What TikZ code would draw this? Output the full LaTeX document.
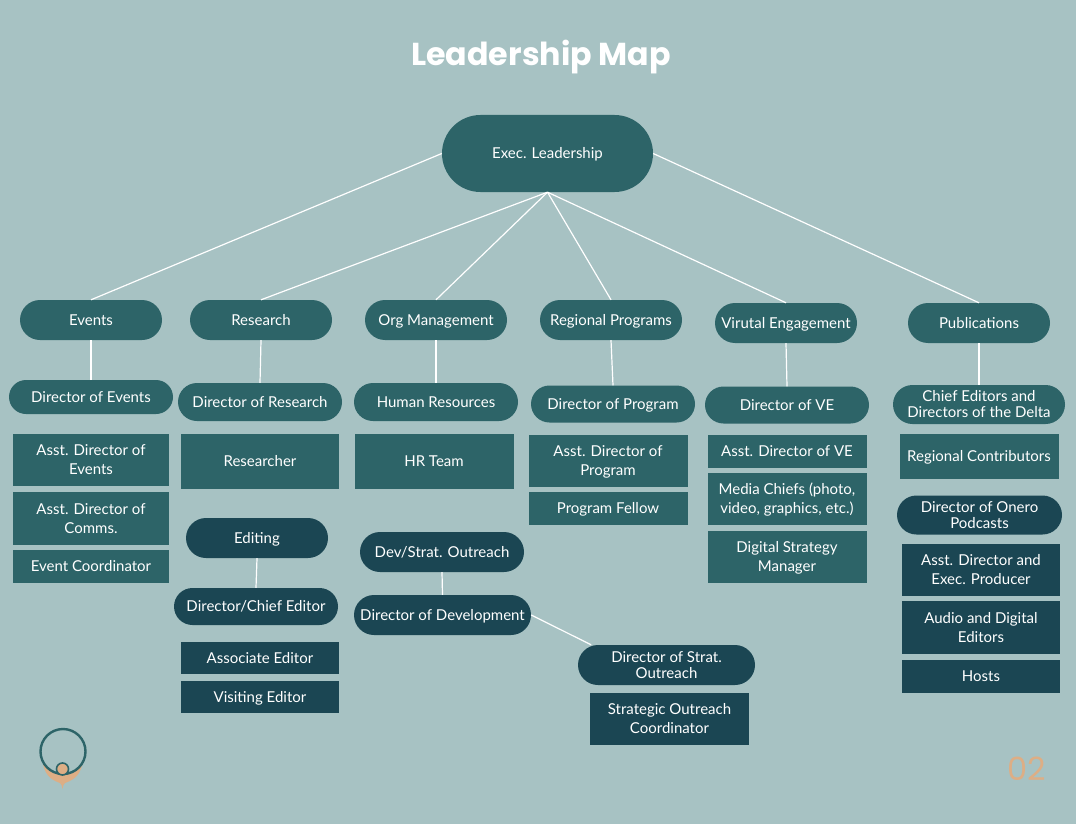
\documentclass[tikz,border=0pt]{standalone}
\usepackage{xcolor}
\usepackage{fontspec}
\setmainfont{Lato}
\newfontfamily\titlefont{Poppins}
\usetikzlibrary{positioning}
\definecolor{pagebg}{HTML}{A7C2C3}
\definecolor{tealfill}{HTML}{2D6468}
\definecolor{darkfill}{HTML}{1B4653}
\definecolor{tanfill}{HTML}{DDAE85}
\newcommand{\capstrut}{\rule[-2.6pt]{0pt}{15.6pt}}

\begin{document}
\begin{tikzpicture}[
    x=1pt, y=-1pt,
    pillnode/.style={rectangle, fill=tealfill, text=white, inner sep=0pt, align=center,
                     font=\fontsize{15}{16}\selectfont},
    darkpill/.style={pillnode, fill=darkfill},
    boxnode/.style={rectangle, fill=tealfill, text=white, inner sep=0pt, align=center,
                    font=\fontsize{15}{19}\selectfont},
    darkbox/.style={boxnode, fill=darkfill},
    link/.style={draw=white, line width=1.2pt}
]
  \fill[pagebg] (0,0) rectangle (1076,824);
  \node[font=\titlefont\bfseries\fontsize{31.7}{36}\selectfont, text=white] (title) at (541,57) {Leadership Map};

  % rounded boxes
  \foreach \n/\x/\y/\w/\h/\t in {
      exec/547.5/153.5/211/77/{Exec. Leadership},
      events/91/320/142/40/{Events},
      research/261/320/142/40/{Research},
      org/436/320/142/40/{Org Management},
      regional/611/320/142/40/{Regional Programs},
      virtual/786/323/142/40/{Virutal Engagement},
      pubs/979/323/142/40/{Publications},
      dirEvents/91/397/164/34/{Director of Events},
      dirResearch/260/402/164/38/{Director of Research},
      hr/436/402/164/38/{Human Resources},
      dirProgram/613/404/164/37/{Director of Program},
      dirVE/787/405/164/37/{Director of VE},
      chiefEd/979/404.5/172/39/{Chief Editors and\\Directors of the Delta}} {
    \pgfmathsetmacro{\rr}{\h/2}
    \node[pillnode, rounded corners=\rr pt, minimum width=\w pt, minimum height=\h pt] (\n) at (\x,\y) {\capstrut\t\capstrut};
  }
  \foreach \n/\x/\y/\w/\h/\t in {
      editing/257/538/142/40/{Editing},
      dirEditor/256/606.5/164/37/{Director/Chief Editor},
      devStrat/442/552/164/40/{Dev/Strat. Outreach},
      dirDev/442.5/615/177/40/{Director of Development},
      dirStrat/666.5/665/177/40/{Director of Strat.\\Outreach},
      dirOnero/979.5/515/165/39/{Director of Onero\\Podcasts}} {
    \pgfmathsetmacro{\rr}{\h/2}
    \node[darkpill, rounded corners=\rr pt, minimum width=\w pt, minimum height=\h pt] (\n) at (\x,\y) {\capstrut\t\capstrut};
  }

  % square boxes
  \foreach \n/\x/\y/\w/\h/\t in {
      asstEvents/91/460/156/52/{Asst. Director of\\Events},
      asstComms/91/518.5/156/53/{Asst. Director of\\Comms.},
      coordEvents/91/566.5/156/33/{Event Coordinator},
      researcher/260/461.5/158/55/{Researcher},
      hrTeam/434/461.5/159/55/{HR Team},
      asstProgram/608/461/159/52/{Asst. Director of\\Program},
      fellow/608/508.5/159/33/{Program Fellow},
      asstVE/787/451/159/33/{Asst. Director of VE},
      media/787/499/159/52/{Media Chiefs (photo,\\video, graphics, etc.)},
      digital/787/557/159/52/{Digital Strategy\\Manager},
      contrib/979/456.5/159/45/{Regional Contributors}} {
    \node[boxnode, minimum width=\w pt, minimum height=\h pt] (\n) at (\x,\y) {\capstrut\t\capstrut};
  }
  \foreach \n/\x/\y/\w/\h/\t in {
      assocEd/260/658/158/32/{Associate Editor},
      visitEd/260/697/158/32/{Visiting Editor},
      stratCoord/669.5/719/159/52/{Strategic Outreach\\Coordinator},
      asstExec/981/570/158/52/{Asst. Director and\\Exec. Producer},
      audio/981/627.5/158/53/{Audio and Digital\\Editors},
      hosts/981/676.5/158/33/{Hosts}} {
    \node[darkbox, minimum width=\w pt, minimum height=\h pt] (\n) at (\x,\y) {\capstrut\t\capstrut};
  }

  % connectors
  \draw[link] (exec.west) -- (events.north);
  \draw[link] (exec.east) -- (pubs.north);
  \foreach \a in {research, org, regional, virtual}
    \draw[link] (exec.south) -- (\a.north);
  \foreach \a/\b in {events/dirEvents, research/dirResearch, org/hr, regional/dirProgram,
                     virtual/dirVE, pubs/chiefEd, editing/dirEditor, devStrat/dirDev}
    \draw[link] (\a.south) -- (\b.north);
  \draw[link] (dirDev.east) -- (dirStrat.165);

  % logo and page number
  \path[fill=tanfill] (43,763) .. controls (45,778) and (55,781) .. (60,783)
      .. controls (61.5,784) and (62,786) .. (62.5,789)
      .. controls (63,786) and (63.5,784) .. (65,783)
      .. controls (70,781) and (80,778) .. (82.5,763) -- cycle;
  \draw[draw=tealfill, fill=pagebg, line width=2.4pt] (63,751.5) circle (22.5);
  \draw[draw=tealfill, fill=tanfill, line width=1.6pt] (62.5,769) circle (6);
  \node[font=\titlefont\fontsize{32}{36}\selectfont, text=tanfill] (pagenum) at (1026.5,769) {02};
\end{tikzpicture}
\end{document}
